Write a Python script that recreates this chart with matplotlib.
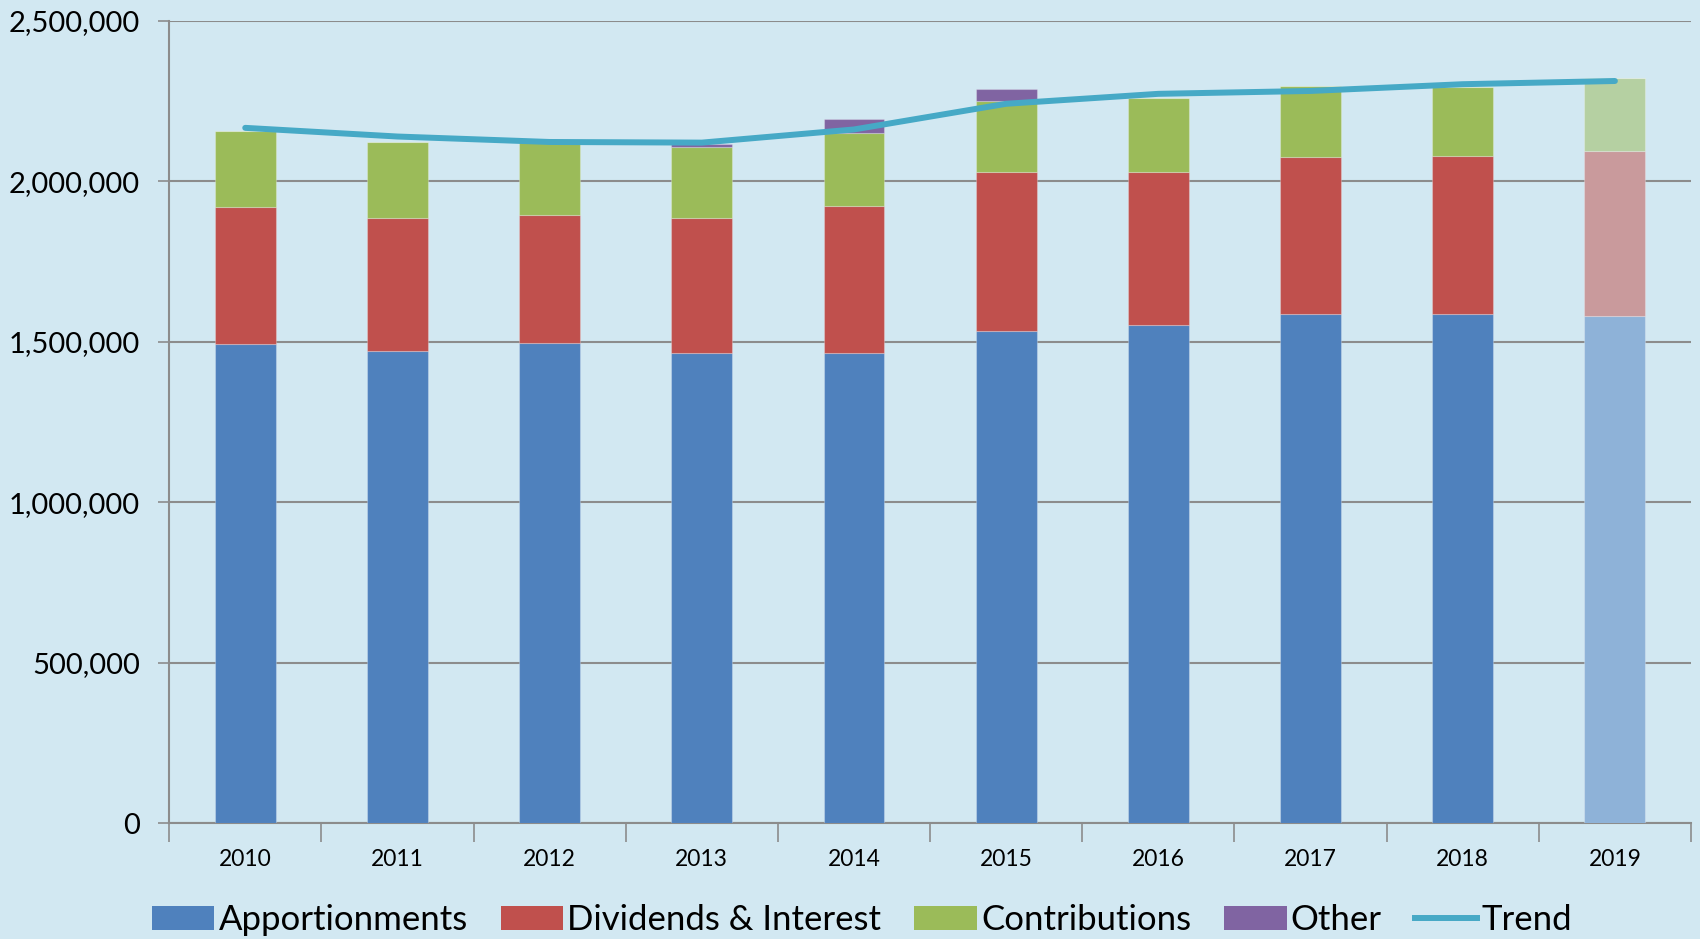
import matplotlib
matplotlib.use("Agg")
import matplotlib.pyplot as plt
from matplotlib.ticker import FuncFormatter, FixedLocator
from matplotlib.patches import Patch
from matplotlib.lines import Line2D
import numpy as np

years = ["2010", "2011", "2012", "2013", "2014", "2015", "2016", "2017", "2018", "2019"]
apportionments = [1493000, 1470000, 1497000, 1463000, 1466000, 1534000, 1552000, 1586000, 1586000, 1579000]
dividends_interest = [426000, 415000, 398000, 422000, 458000, 495000, 478000, 489000, 493000, 515000]
contributions = [236000, 237000, 227000, 222000, 225000, 221000, 230000, 221000, 215000, 226000]
other = [0, 0, 0, 10000, 46000, 37000, 0, 0, 0, 0]
trend = [2166000, 2139000, 2122000, 2120000, 2161000, 2241000, 2272000, 2281000, 2302000, 2312000]

legend_labels = ["Apportionments", "Dividends & Interest", "Contributions", "Other", "Trend"]

plt.rcParams['font.family'] = ['Lato', 'DejaVu Sans']

bg = "#D2E8F2"
c_blue, c_red, c_green, c_purple, c_trend = "#4F81BD", "#C0504D", "#9BBB59", "#8064A2", "#46A9C6"
light = {c_blue: "#8EB2D8", c_red: "#C99A9C", c_green: "#B5D0A2", c_purple: "#B3A2C7"}

fig = plt.figure(figsize=(17, 9.39), dpi=100, facecolor=bg)
ax = fig.add_axes([0.0995, 0.1235, 0.8952, 0.8545], facecolor=bg)

x = np.arange(len(years))
n = len(years)
bottoms = np.zeros(n)
for vals, col in [(apportionments, c_blue), (dividends_interest, c_red), (contributions, c_green), (other, c_purple)]:
    cols = [col] * (n - 1) + [light[col]]
    ax.bar(x, vals, width=0.4, bottom=bottoms, color=cols, zorder=3, linewidth=0.8,
           edgecolor=[(1, 1, 1, 0.25)] * n)
    bottoms = bottoms + np.array(vals)

ax.plot(x, trend, color=c_trend, linewidth=4.3, solid_capstyle='round', zorder=4)

ax.set_xlim(-0.5, n - 0.5)
ax.set_ylim(0, 2500000)
ax.yaxis.set_major_locator(FixedLocator(np.arange(0, 2500001, 500000)))
ax.yaxis.set_major_formatter(FuncFormatter(lambda v, p: f"{int(v):,}"))
ax.grid(axis='y', color="#8C8C8C", linewidth=1.5, zorder=1)
ax.set_axisbelow(True)

ax.set_xticks(x)
ax.set_xticklabels(years, fontsize=16.5)
ax.xaxis.set_minor_locator(FixedLocator(np.arange(-0.5, n, 1.0)))
ax.tick_params(axis='x', which='major', length=0, pad=19)
ax.tick_params(axis='x', which='minor', length=14, width=1.2, color="#8C8C8C", direction='out')
ax.tick_params(axis='y', labelsize=21, length=8, width=1.2, color="#8C8C8C", direction='out', pad=13)

for s in ['top', 'right']:
    ax.spines[s].set_visible(False)
for s in ['left', 'bottom']:
    ax.spines[s].set_color("#8C8C8C")
    ax.spines[s].set_linewidth(1.5)

handles = [Patch(facecolor=c_blue), Patch(facecolor=c_red), Patch(facecolor=c_green),
           Patch(facecolor=c_purple), Line2D([0], [0], color=c_trend, linewidth=4.3)]
fig.legend(handles, legend_labels, loc='lower center', bbox_to_anchor=(0.507, -0.03), ncol=5,
           frameon=False, fontsize=25, handlelength=1.8, handleheight=0.7, handletextpad=0.12,
           columnspacing=0.95)

fig.savefig("out.png", dpi=100, facecolor=bg)
